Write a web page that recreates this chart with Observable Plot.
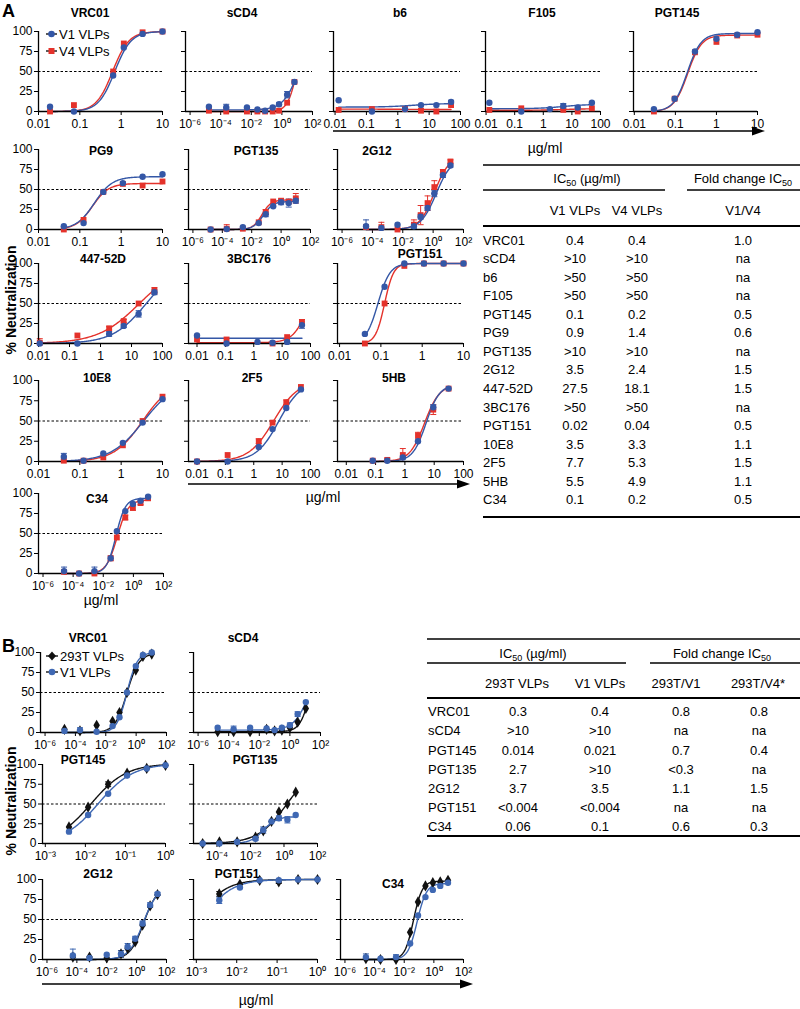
<!DOCTYPE html>
<html><head><meta charset="utf-8">
<script src="https://cdn.jsdelivr.net/npm/d3@7"></script>
<script src="https://cdn.jsdelivr.net/npm/@observablehq/plot@0.6"></script>
<style>
body{margin:0;background:#fff;}
#root{position:relative;width:800px;height:1009px;overflow:hidden;background:#fff;}
</style></head><body><div id="root"></div>
<script>
// ---------------- DATA ----------------
// Panel A rows: [concentration (µg/ml), V1 VLPs %, V1 SD, V4 VLPs %, V4 SD]
// Fits: [bottom, top, EC50, hill] for [V1, V4]
const A_VRC01 = [[0.019,6,0,0,0],[0.072,0,0,8,0],[0.64,45,0,50,0],[1.16,80,0,85,0],[3.3,97,0,99,0],[10,100,0,100,0]];
const A_VRC01_fit = [[0,100,0.7,2.2],[0,100,0.62,2.2]];
const A_sCD4 = [[1.7e-5,6,0,1,0],[2.3e-4,5,4,0,0],[5.2e-3,5,0,0,0],[0.025,2.5,0,0,0],[0.08,1,0,0,0],[0.25,5,0,0,0],[0.65,9,2,1,0],[2.2,21,4,11,0],[6.6,37,0,37,0]];
const A_sCD4_fit = [[2,100,13.1,0.855],[0,100,9.6,1.42]];
const A_b6 = [[0.013,14,0,2,0],[0.15,0,0,3,0],[1.7,3,3,3,0],[5.5,8,0,1,2],[17,8,0,0,2],[50,12,2,8,0]];
const A_b6_fit = [[5.5,10,3,1],[3,2.5,1,1]];
const A_F105 = [[0.013,11,0,2,0],[0.17,0,0,4,0],[1.7,3,0,null,0],[5,7,3,2,0],[16,5,0,0,0],[50,11,0,4,0]];
const A_F105_fit = [[3.5,9,5,1],[1.5,3.5,5,1]];
const A_PGT145 = [[0.03,3,0,0,0],[0.096,16,0,16,0],[0.3,75,0,74,0],[1.0,91,0,87,0],[3.2,96,0,95,0],[10,99,0,96,0]];
const A_PGT145_fit = [[0,97.5,0.195,2.6],[0,95.5,0.2,2.6]];
const A_PG9 = [[0.041,4,0,0,0],[0.123,8,0,12,0],[0.37,47,0,47,0],[1.1,58,0,57,0],[3.3,66,0,55,0],[10,69,0,60,0]];
const A_PG9_fit = [[0,66,0.225,2],[0,57.5,0.2,2.2]];
const A_PGT135 = [[1.6e-5,0,0,0,0],[2e-4,0.5,0,1,5],[2.5e-3,3,0,1,0],[0.03,8,0,9,0],[0.09,19,3,22,3],[0.29,29,0,35,0],[1,34,3,36,2],[3.3,33,5,35,0],[10,36,3,39,6]];
const A_PGT135_fit = [[0,35,0.06,1.3],[0,37,0.05,1.4]];
const A_2G12 = [[3.8e-5,4,8,3,0],[3.9e-4,2,0,3,6],[4.5e-3,6,0,0,0],[0.054,4,3,6,6],[0.15,16,3,18,12],[0.43,27,3,33,9],[1.2,45,4,53,8],[4.4,68,3,72,3],[13.8,80,2,85,2]];
const A_2G12_fit = [[0,90,1.6,0.85],[0,92,1.2,0.9]];
const A_447 = [[0.011,0,0,1,5],[0.18,0,0,10,0],[1.9,12,3,19,2],[5.6,22,2,28,2],[17,37,4,50,0],[55,64,3,66,4]];
const A_447_fit = [[0,100,30,0.8],[0,100,18,0.65]];
const A_3BC176 = [[0.01,10,0,5,0],[0.11,0,0,5,0],[1.35,2,0,null,0],[4.6,1,0,0,0],[15,2,0,8,0],[50,23,4,27,3]];
const A_3BC176_fit = [[6.5,6.5,1,1],[1,100,92,1.6]];
const A_PGT151 = [[0.041,12,0,0,0],[0.123,71,0,50,0],[0.37,100,0,97,0],[1.1,100,0,100,0],[3.3,100,0,100,0],[10,100,0,100,0]];
const A_PGT151_fit = [[0,100,0.085,3],[0,100,0.123,4]];
const A_10E8 = [[0.041,6,4,1,0],[0.123,1,0,1,0],[0.37,10,0,5,0],[1.1,23,0,20,0],[3.3,48,0,50,0],[10,77,0,80,0]];
const A_10E8_fit = [[0,100,3.5,1.1],[0,100,3.3,1.25]];
const A_2F5 = [[0.01,0,0,0,0],[0.12,0,0,8,0],[1.5,18,0,25,3],[4.6,40,0,48,0],[14,66,0,73,3],[46,89,0,92,0]];
const A_2F5_fit = [[0,100,7.7,1.1],[0,100,5,1.0]];
const A_5HB = [[0.08,1,0,1,0],[0.25,1,0,2,2],[0.85,5,2,8,8],[2.8,25,0,32,4],[9.3,67,3,64,6],[31,90,0,90,0]];
const A_5HB_fit = [[0,95,5.3,1.9],[0,95,4.7,1.7]];
const A_C34 = [[2.5e-5,3,5,2,0],[2.5e-4,0,0,0,0],[2.6e-3,3,5,0,3],[0.031,19,0,19,3],[0.08,53,0,45,0],[0.29,78,0,70,3],[0.93,87,0,82,3],[3,91,0,88,2],[9.5,96,0,94,0]];
const A_C34_fit = [[0,94,0.07,1.4],[0,92,0.085,1.2]];

// Panel B rows: [concentration (µg/ml), 293T VLPs %, SD, V1 VLPs %, SD]
// Fits: [bottom, top, EC50, hill] for [293T, V1]
const B_VRC01 = [[1.9e-5,4,0,2,0],[2e-4,2,0,3,3],[2.5e-3,9,0,1,0],[0.028,14,0,8,0],[0.08,25,0,19,0],[0.25,50,0,50,0],[0.95,78,0,83,0],[2.8,95,0,97,0],[10.7,98,0,100,0]];
const B_VRC01_fit = [[0,99,0.25,1.1],[0,100,0.25,1.3]];
const B_sCD4 = [[1.9e-5,1,0,6,0],[2.1e-4,1,0,4,4],[2.5e-3,1,0,6,0],[0.03,4,0,5,0],[0.1,2,0,3,0],[0.3,3,0,6,0],[1,6,0,9,3],[3.2,13,0,23,3],[11,30,0,38,0]];
const B_sCD4_fit = [[1,100,22,1.3],[3,100,22,0.85]];
const B_PGT145 = [[0.0039,21,0,15,0],[0.0117,46,0,36,0],[0.037,75,3,63,0],[0.11,89,0,86,0],[0.34,95,0,95,0],[1.0,99,0,99,0]];
const B_PGT145_fit = [[0,101,0.014,1.0],[0,101,0.021,1.0]];
const B_PGT135 = [[1.4e-5,0,0,0,0],[1.4e-4,2,0,0,0],[1.6e-3,2,0,2,0],[0.02,8,0,6,2],[0.058,16,0,17,4],[0.18,28,0,28,0],[0.5,40,0,32,3],[1.6,50,0,30,4],[5,65,0,36,0]];
const B_PGT135_fit = [[0,100,1.5,0.5],[0,34,0.06,1.1]];
const B_2G12 = [[5.4e-5,3,0,5,8],[7e-4,3,0,2,0],[0.01,2,0,6,0],[0.09,7,4,7,4],[0.25,14,0,16,4],[0.8,22,0,26,3],[2.5,43,0,45,3],[8,67,0,68,3],[25,81,0,82,2]];
const B_2G12_fit = [[0,92,3.0,0.95],[0,92,2.8,0.9]];
const B_PGT151 = [[0.0037,82,3,74,4],[0.012,94,0,90,0],[0.037,99,0,99,0],[0.11,97,2,99,0],[0.33,100,0,100,0],[1.0,100,0,100,0]];
const B_PGT151_fit = [[0,100,0.001,1.2],[0,100,0.0014,1.2]];
const B_C34 = [[2.6e-5,1,0,3,4],[2.5e-4,0,0,1,0],[2.8e-3,0,0,3,3],[0.025,34,0,20,0],[0.085,72,0,55,0],[0.27,92,0,78,0],[0.85,96,0,87,0],[2.7,97,0,92,0],[9,99,0,96,0]];
const B_C34_fit = [[0,98,0.042,1.5],[0,95,0.075,1.4]];

const yTicks = [0,25,50,75,100];

// Tables
const tabA_names = ["VRC01","sCD4","b6","F105","PGT145","PG9","PGT135","2G12","447-52D","3BC176","PGT151","10E8","2F5","5HB","C34"];
const tabA_V1 = ["0.4",">10",">50",">50","0.1","0.9",">10","3.5","27.5",">50","0.02","3.5","7.7","5.5","0.1"];
const tabA_V4 = ["0.4",">10",">50",">50","0.2","1.4",">10","2.4","18.1",">50","0.04","3.3","5.3","4.9","0.2"];
const tabA_fold = ["1.0","na","na","na","0.5","0.6","na","1.5","1.5","na","0.5","1.1","1.5","1.1","0.5"];
const tabB_names = ["VRC01","sCD4","PGT145","PGT135","2G12","PGT151","C34"];
const tabB_293T = ["0.3",">10","0.014","2.7","3.7","<0.004","0.06"];
const tabB_V1 = ["0.4",">10","0.021",">10","3.5","<0.004","0.1"];
const tabB_f1 = ["0.8","na","0.7","<0.3","1.1","na","0.6"];
const tabB_f2 = ["0.8","na","0.4","na","1.5","na","0.3"];

// ---------------- LAYOUT ----------------
const layout = [
 {set:"A",rows:A_VRC01,fit:A_VRC01_fit,title:"VRC01",tx:90,ty:12,ax:38,ay:31,w:124,h:80,lo:-2,hi:1,xt:"dec",ylab:true},
 {set:"A",rows:A_sCD4,fit:A_sCD4_fit,title:"sCD4",tx:242,ty:12,ax:185,ay:31,w:127,h:80,lo:-6.3,hi:2,xt:"pow"},
 {set:"A",rows:A_b6,fit:A_b6_fit,title:"b6",tx:400,ty:12,ax:333,ay:31,w:127,h:80,lo:-2.05,hi:2,xt:"dec"},
 {set:"A",rows:A_F105,fit:A_F105_fit,title:"F105",tx:542,ty:12,ax:485,ay:31,w:115,h:80,lo:-2.02,hi:2,xt:"dec"},
 {set:"A",rows:A_PGT145,fit:A_PGT145_fit,title:"PGT145",tx:677,ty:12,ax:633,ay:31,w:124,h:80,lo:-2.02,hi:1,xt:"dec"},
 {set:"A",rows:A_PG9,fit:A_PG9_fit,title:"PG9",tx:101,ty:150,ax:38,ay:149,w:124,h:80,lo:-2,hi:1,xt:"dec",ylab:true},
 {set:"A",rows:A_PGT135,fit:A_PGT135_fit,title:"PGT135",tx:256,ty:150,ax:188,ay:149,w:122,h:80,lo:-6.3,hi:2,xt:"pow"},
 {set:"A",rows:A_2G12,fit:A_2G12_fit,title:"2G12",tx:377,ty:150,ax:337,ay:149,w:126,h:80,lo:-6.3,hi:2,xt:"pow"},
 {set:"A",rows:A_447,fit:A_447_fit,title:"447-52D",tx:103,ty:258,ax:38,ay:263,w:124,h:80,lo:-2,hi:2,xt:"dec",ylab:true},
 {set:"A",rows:A_3BC176,fit:A_3BC176_fit,title:"3BC176",tx:249,ty:258,ax:188,ay:263,w:122,h:80,lo:-2.3,hi:2,xt:"dec"},
 {set:"A",rows:A_PGT151,fit:A_PGT151_fit,title:"PGT151",tx:420,ty:253,ax:337,ay:263,w:126,h:80,lo:-2.05,hi:1,xt:"dec"},
 {set:"A",rows:A_10E8,fit:A_10E8_fit,title:"10E8",tx:97,ty:377,ax:38,ay:380,w:124,h:81,lo:-2,hi:1,xt:"dec",ylab:true},
 {set:"A",rows:A_2F5,fit:A_2F5_fit,title:"2F5",tx:252,ty:377,ax:188,ay:380,w:122,h:81,lo:-2.3,hi:2,xt:"dec"},
 {set:"A",rows:A_5HB,fit:A_5HB_fit,title:"5HB",tx:394,ty:377,ax:337,ay:380,w:126,h:81,lo:-2.3,hi:2,xt:"dec"},
 {set:"A",rows:A_C34,fit:A_C34_fit,title:"C34",tx:97,ty:498,ax:38,ay:493,w:125,h:80,lo:-6.3,hi:2,xt:"pow",ylab:true},
 {set:"B",rows:B_VRC01,fit:B_VRC01_fit,title:"VRC01",tx:88,ty:637,ax:40,ay:652,w:126,h:80,lo:-6.3,hi:2,xt:"pow",ylab:true},
 {set:"B",rows:B_sCD4,fit:B_sCD4_fit,title:"sCD4",tx:243,ty:637,ax:193,ay:652,w:127,h:80,lo:-6.3,hi:2,xt:"pow"},
 {set:"B",rows:B_PGT145,fit:B_PGT145_fit,title:"PGT145",tx:83,ty:759,ax:42,ay:764,w:123,h:79,lo:-3.07,hi:0,xt:"pow",ylab:true},
 {set:"B",rows:B_PGT135,fit:B_PGT135_fit,title:"PGT135",tx:255,ty:759,ax:193,ay:764,w:124,h:79,lo:-5.4,hi:2,xt:"pow"},
 {set:"B",rows:B_2G12,fit:B_2G12_fit,title:"2G12",tx:98,ty:873,ax:42,ay:879,w:124,h:80,lo:-6.3,hi:2,xt:"pow",ylab:true},
 {set:"B",rows:B_PGT151,fit:B_PGT151_fit,title:"PGT151",tx:237,ty:873,ax:193,ay:879,w:124,h:80,lo:-3.07,hi:0,xt:"pow"},
 {set:"B",rows:B_C34,fit:B_C34_fit,title:"C34",tx:393,ty:883,ax:340,ay:879,w:123,h:80,lo:-6.3,hi:2,xt:"pow"}
];

// ---------------- DRAW ----------------
const FONT = '"Liberation Sans", Arial, Helvetica, sans-serif';
const BLUE = "#3457a6", RED = "#e4322b", BLACK = "#111111", BLUEB = "#3f68b3";
const supMap = {"-":"\u207B","0":"\u2070","1":"\u00B9","2":"\u00B2","3":"\u00B3","4":"\u2074","5":"\u2075","6":"\u2076"};
const powLabel = v => "10" + String(Math.round(Math.log10(v))).split("").map(c => supMap[c]).join("");
const capSymbol = {draw(ctx, size){ const w = Math.sqrt(size/Math.PI); ctx.moveTo(-w,0); ctx.lineTo(w,0); }};
const root = document.getElementById("root");

function panel(L){
  const mL=34, mR=14, mT=4, mB=22;
  const series = L.set==="A"
    ? [{col:3,color:RED,symbol:"square",r:3.3,fit:L.fit[1]},{col:1,color:BLUE,symbol:"circle",r:3.2,fit:L.fit[0]}]
    : [{col:1,color:BLACK,symbol:"diamond",r:3.4,fit:L.fit[0]},{col:3,color:BLUEB,symbol:"circle",r:3.2,fit:L.fit[1]}];
  const x0 = 10**L.lo, x1 = 10**L.hi;
  let exps = d3.range(Math.ceil(L.lo-1e-9), Math.floor(L.hi+1e-9)+1);
  if (L.xt==="pow" && L.hi-L.lo>4) exps = exps.filter(e => e%2===0);
  const ticks = exps.map(e => 10**e);
  const fmt = L.xt==="pow" ? powLabel : (v => String(v));
  const marks = [Plot.ruleY([50],{stroke:"#000",strokeWidth:1,strokeDasharray:"2.5,2"})];
  const dots = [];
  for (const s of series){
    const pts = L.rows.filter(r => r[s.col]!=null).map(r => ({x:r[0], y:r[s.col], e:r[s.col+1]||0}));
    const lx0 = Math.log10(d3.min(pts,d=>d.x)), lx1 = Math.log10(d3.max(pts,d=>d.x));
    const [b,t,ec,hl] = s.fit;
    const curve = d3.range(121).map(i => { const x = 10**(lx0+(lx1-lx0)*i/120); return {x, y: b+(t-b)/(1+Math.pow(ec/x,hl))}; });
    marks.push(Plot.line(curve,{x:"x",y:"y",stroke:s.color,strokeWidth:1.4}));
    const eb = pts.filter(d => d.e>0);
    marks.push(Plot.ruleX(eb,{x:"x",y1:d=>Math.max(0,d.y-d.e),y2:d=>d.y+d.e,stroke:s.color,strokeWidth:1}));
    const caps = eb.flatMap(d => [{x:d.x,y:Math.max(0,d.y-d.e)},{x:d.x,y:d.y+d.e}]);
    marks.push(Plot.dot(caps,{x:"x",y:"y",symbol:capSymbol,r:3,stroke:s.color,fill:"none",strokeWidth:1}));
    dots.push(Plot.dot(pts,{x:"x",y:"y",symbol:s.symbol,r:s.r,fill:s.color,stroke:"none"}));
  }
  marks.push(Plot.ruleX([x0],{stroke:"#000",strokeWidth:1.3}), Plot.ruleY([0],{stroke:"#000",strokeWidth:1.3}));
  marks.push(...dots);
  const svg = Plot.plot({
    width: mL+L.w+mR, height: mT+L.h+mB,
    marginLeft:mL, marginRight:mR, marginTop:mT, marginBottom:mB,
    x:{type:"log", domain:[x0,x1], ticks, tickFormat:fmt, tickSize:4, tickPadding:3.5, label:null},
    y:{domain:[0,100], ticks:yTicks, tickFormat: L.ylab ? (d=>String(d)) : (()=>""), tickSize:4, tickPadding:2, label:null},
    style:{fontSize:"12px", fontFamily:FONT, overflow:"visible", background:"transparent", color:"#000"},
    marks
  });
  svg.style.position = "absolute";
  svg.style.left = (L.ax-mL)+"px";
  svg.style.top = (L.ay-mT)+"px";
  svg.style.background = "transparent";
  svg.style.overflow = "visible";
  svg.style.maxWidth = "none";
  root.appendChild(svg);
}
layout.forEach(panel);

// ---------------- OVERLAY TEXT / TABLES ----------------
const NS = "http://www.w3.org/2000/svg";
const ov = document.createElementNS(NS,"svg");
ov.setAttribute("width",800); ov.setAttribute("height",1009);
ov.style.position="absolute"; ov.style.left="0"; ov.style.top="0";
root.appendChild(ov);
function el(tag, attrs){ const e=document.createElementNS(NS,tag); for(const k in attrs) e.setAttribute(k,attrs[k]); ov.appendChild(e); return e; }
function T(x,y,s,o={}){
  const t = el("text",{x,y,"font-size":o.size||13,"text-anchor":o.anchor||"start","font-family":FONT,fill:"#000"});
  if (o.bold) t.setAttribute("font-weight","bold");
  if (o.rotate) t.setAttribute("transform",`rotate(-90 ${x} ${y})`);
  t.textContent = s; return t;
}
function Tsub(x,y,pre,sub,post,anchor){
  const t = el("text",{x,y,"font-size":13,"text-anchor":anchor||"middle","font-family":FONT,fill:"#000"});
  const a=document.createElementNS(NS,"tspan"); a.textContent=pre; t.appendChild(a);
  const b=document.createElementNS(NS,"tspan"); b.textContent=sub; b.setAttribute("font-size",9); b.setAttribute("dy",3); t.appendChild(b);
  if (post){ const c=document.createElementNS(NS,"tspan"); c.textContent=post; c.setAttribute("dy",-3); t.appendChild(c); }
}
function R(x1,y1,x2,y2,w){ el("line",{x1,y1,x2,y2,stroke:"#000","stroke-width":w||1.3}); }
function arrow(xa,xb,y){ R(xa,y,xb-10,y,1.4); el("polygon",{points:`${xb},${y} ${xb-13},${y-4.5} ${xb-13},${y+4.5}`,fill:"#000"}); }

// panel letters
T(2,17,"A",{size:18,bold:true});
T(2,652,"B",{size:18,bold:true});
// titles
layout.forEach(L => T(L.tx, L.ty+4.5, L.title, {size:12, bold:true, anchor:"middle"}));
// y axis titles
T(16,300,"% Neutralization",{size:14,bold:true,anchor:"middle",rotate:true});
T(16,801,"% Neutralization",{size:14,bold:true,anchor:"middle",rotate:true});
// arrows + units
arrow(333,765,131); T(545,153,"\u00B5g/ml",{size:14,anchor:"middle"});
arrow(188,470,484); T(323,502,"\u00B5g/ml",{size:14,anchor:"middle"});
T(101,605,"\u00B5g/ml",{size:14,anchor:"middle"});
arrow(42,473,984); T(256,1005,"\u00B5g/ml",{size:14,anchor:"middle"});

// legends
R(46,34,57,34,1.3); el("circle",{cx:51.5,cy:34,r:3.3,fill:BLUE}); T(59,38.5,"V1 VLPs");
R(46,51,57,51,1.3); el("rect",{x:48.5,y:48,width:6,height:6,fill:RED}); T(59,55.5,"V4 VLPs");
R(46,656,58,656,1.3); el("path",{d:"M52,651.5L56,656L52,660.5L48,656Z",fill:BLACK}); T(60,660.5,"293T VLPs");
R(46,672,58,672,1.3); el("circle",{cx:52,cy:672,r:3.3,fill:BLUEB}); T(60,676.5,"V1 VLPs");

// Table A
R(483,165,800,165,1.6);
Tsub(587,183,"IC","50"," (\u00B5g/ml)");
Tsub(743,183,"Fold change IC","50","");
R(483,190,665,190,1.4); R(687,190,800,190,1.4);
T(575,215,"V1 VLPs",{anchor:"middle"}); T(637,215,"V4 VLPs",{anchor:"middle"}); T(743,215,"V1/V4",{anchor:"middle"});
R(483,226,800,226,2);
tabA_names.forEach((n,i) => {
  const y = 244.5 + i*18.57;
  T(483,y,n); T(575,y,tabA_V1[i],{anchor:"middle"}); T(637,y,tabA_V4[i],{anchor:"middle"}); T(743,y,tabA_fold[i],{anchor:"middle"});
});
R(483,517,800,517,2);

// Table B
R(427,639,800,639,1.6);
Tsub(533,657.5,"IC","50"," (\u00B5g/ml)");
Tsub(722,657.5,"Fold change IC","50","");
R(427,663,626,663,1.4); R(650,663,800,663,1.4);
T(517,687.5,"293T VLPs",{anchor:"middle"}); T(600,687.5,"V1 VLPs",{anchor:"middle"});
T(676,687.5,"293T/V1",{anchor:"middle"}); T(758,687.5,"293T/V4*",{anchor:"middle"});
R(427,698,800,698,2);
tabB_names.forEach((n,i) => {
  const y = 716.2 + i*19.15;
  T(428,y,n); T(518,y,tabB_293T[i],{anchor:"middle"}); T(600,y,tabB_V1[i],{anchor:"middle"});
  T(681,y,tabB_f1[i],{anchor:"middle"}); T(759,y,tabB_f2[i],{anchor:"middle"});
});
R(427,836,800,836,2);
</script>
</body></html>
